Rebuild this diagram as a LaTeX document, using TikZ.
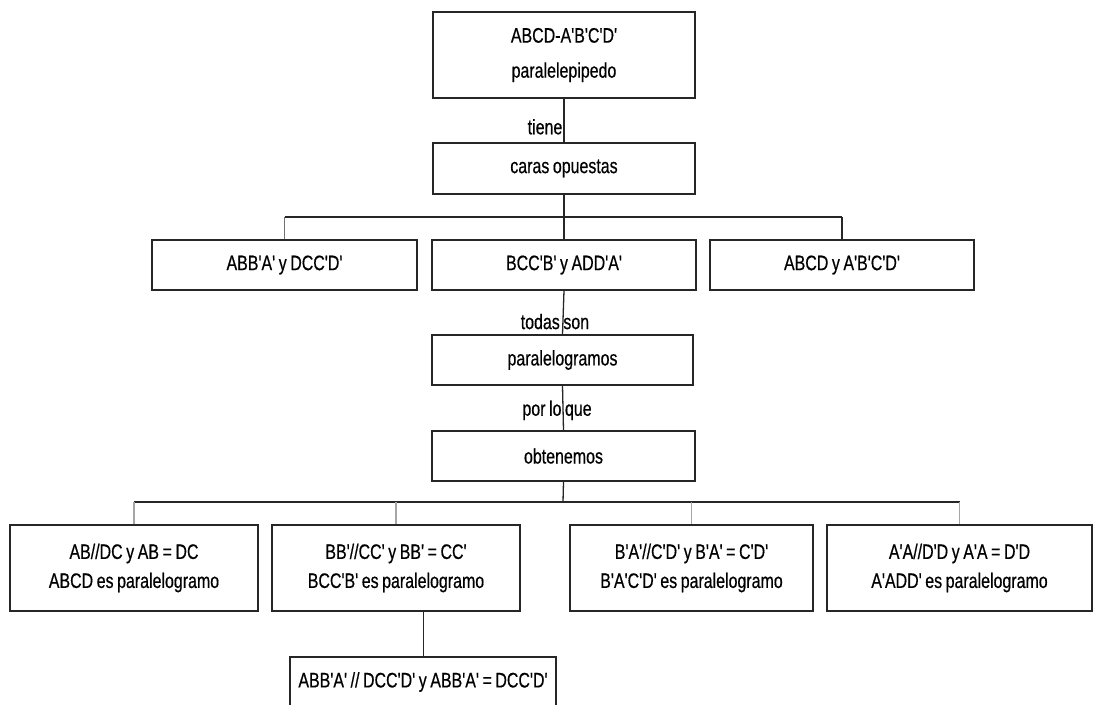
\documentclass[tikz,border=0pt]{standalone}
\usepackage{fontspec}
\setmainfont[FakeStretch=0.76,FakeBold=0.5,Ligatures=TeXOff,WordSpace=0.8]{Liberation Sans}
\begin{document}
\begin{tikzpicture}[x=1pt,y=-1pt,
  every node/.style={font=\fontsize{21}{29}\selectfont, text=black},
  box/.style={draw=black!85, line width=1.2pt, inner sep=0pt, align=center},
  conn/.style={draw=black!85, line width=1.3pt},
  tick/.style={draw=black!35, line width=1.3pt},
  lbl/.style={inner sep=1pt}]
\useasboundingbox[fill=white] (0,0) rectangle (1102,704);
% nodes
\node[box, line width=2pt, minimum width=262, minimum height=86,
      font=\fontsize{21}{35}\selectfont] (top) at (564,55) {ABCD-A'B'C'D'\\paralelepipedo};
\node[box, minimum width=262, minimum height=51] (caras) at (564,168.5) {caras opuestas};
\node[box, minimum width=265, minimum height=50] (l2a) at (284.5,265) {ABB'A' y DCC'D'};
\node[box, minimum width=264, minimum height=50] (l2b) at (564,265) {BCC'B' y ADD'A'};
\node[box, minimum width=264, minimum height=50] (l2c) at (842,265) {ABCD y A'B'C'D'};
\node[box, line width=1.6pt, minimum width=261, minimum height=50] (para) at (562.5,360) {paralelogramos};
\node[box, minimum width=263, minimum height=50] (obt) at (563.5,456) {obtenemos};
\node[box, minimum width=248, minimum height=86] (b1) at (134,568) {AB//DC y AB = DC\\ABCD es paralelogramo};
\node[box, minimum width=248, minimum height=86] (b2) at (396,568) {BB'//CC' y BB' = CC'\\BCC'B' es paralelogramo};
\node[box, minimum width=243, minimum height=86] (b3) at (691.5,568) {B'A'//C'D' y B'A' = C'D'\\B'A'C'D' es paralelogramo};
\node[box, minimum width=265, minimum height=86] (b4) at (959.5,568) {A'A//D'D y A'A = D'D\\A'ADD' es paralelogramo};
\node[box, minimum width=266, minimum height=50] (last) at (423,682) {ABB'A' // DCC'D' y ABB'A' = DCC'D'};
% junctions
\coordinate (j1) at (564,217);
\coordinate (j2) at (563,502);
% connectors
\draw[conn] (top.south) -- (caras.north) node[lbl, pos=0.64, left] {tiene};
\draw[conn] (caras.south) -- (j1);
\draw[conn] (l2a.north |- j1) -- (l2c.north |- j1);
\draw[tick, draw=black!55] (l2a.north |- j1) -- (l2a.north);
\draw[conn] (j1) -- (l2b.north);
\draw[conn] (l2c.north |- j1) -- (l2c.north);
\draw[conn] (l2b.south) -- (para.north) node[lbl, pos=0.71, xshift=-8pt] {todas son};
\draw[conn] (para.south) -- (obt.north) node[lbl, pos=0.55, xshift=-6pt] {por lo que};
\draw[conn] (obt.south) -- (j2);
\draw[conn] (b1.north |- j2) -- (b4.north |- j2);
\draw[tick] (b1.north |- j2) -- (b1.north);
\draw[tick] (b2.north |- j2) -- (b2.north);
\draw[tick] (b3.north |- j2) -- (b3.north);
\draw[tick] (b4.north |- j2) -- (b4.north);
\draw[conn, line width=1pt] (last.north |- b2.south) -- (last.north);
\end{tikzpicture}
\end{document}
